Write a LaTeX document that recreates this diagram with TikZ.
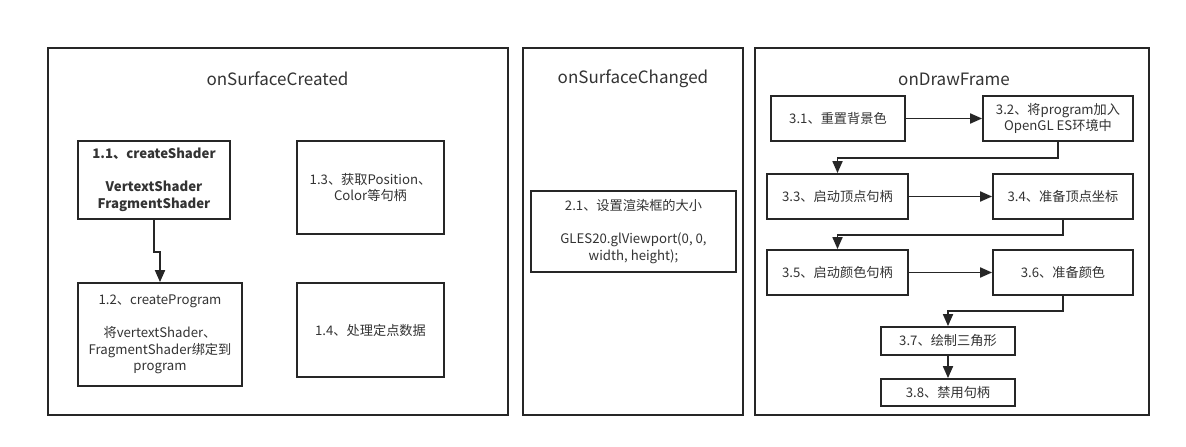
\documentclass[tikz,border=0pt]{standalone}
\usepackage{fontspec}
\setmainfont{Noto Sans CJK SC}
\usetikzlibrary{positioning,arrows.meta}
\newcommand{\boxfont}{\fontsize{13.2}{16.5}\selectfont}
\newcommand{\titlefont}{\fontsize{17}{20}\selectfont}
\tikzset{
  frame/.style={draw=black!85, line width=1.8pt},
  stepbox/.style={rectangle, draw=black!85, line width=1.8pt, align=center, inner sep=2pt, font=\boxfont, text=black!80},
  nxt/.style={-{Triangle[length=12pt, width=10pt]}, line width=1.8pt, draw=black!85},
  ttl/.style={font=\titlefont, text=black!80}
}

\begin{document}
\begin{tikzpicture}[x=1pt, y=-1pt]
\fill[white] (0,0) rectangle (1186,447);
\useasboundingbox (0,0) rectangle (1186,447);
% three stages
\draw[frame] (48,48) rectangle (508,415);
\draw[frame] (523,48) rectangle (743,415);
\draw[frame] (755,48) rectangle (1149,415);
\node[ttl] (tcreated) at (277.5,79) {onSurfaceCreated};
\node[ttl] (tchanged) at (633,79) {onSurfaceChanged};
\node[ttl] (tdraw) at (954,79) {onDrawFrame};
% onSurfaceCreated
\node[stepbox, minimum width=152pt, minimum height=78pt, font=\boxfont\bfseries] (s11) at (154,180)
  {1.1、createShader\\[16.5pt]VertextShader\\FragmentShader};
\node[stepbox, minimum width=164pt, minimum height=103pt] (s12) at (160,334.5)
  {1.2、createProgram\\[16.5pt]将vertextShader、\\FragmentShader绑定到\\program};
\node[stepbox, minimum width=147pt, minimum height=93pt] (s13) at (370.5,187.5)
  {1.3、获取Position、\\Color等句柄};
\node[stepbox, minimum width=147pt, minimum height=94pt] (s14) at (370.5,330)
  {1.4、处理定点数据};
\draw[nxt] (s11.south) -- ++(0,32) -| (s12.north);
% onSurfaceChanged
\node[stepbox, minimum width=205pt, minimum height=81pt] (s21) at (633.5,231.5)
  {2.1、设置渲染框的大小\\[16.5pt]GLES20.glViewport(0, 0,\\width, height);};
% onDrawFrame
\node[stepbox, minimum width=134pt, minimum height=45pt] (s31) at (838,118.5) {3.1、重置背景色};
\node[stepbox, minimum width=150pt, minimum height=45pt] (s32) at (1058,118.5) {3.2、将program加入\\OpenGL ES环境中};
\node[stepbox, minimum width=141pt, minimum height=45pt] (s33) at (837.5,196.5) {3.3、启动顶点句柄};
\node[stepbox, minimum width=140pt, minimum height=45pt] (s34) at (1063,196.5) {3.4、准备顶点坐标};
\node[stepbox, minimum width=141pt, minimum height=45pt] (s35) at (837.5,272.5) {3.5、启动颜色句柄};
\node[stepbox, minimum width=140pt, minimum height=45pt] (s36) at (1063,272.5) {3.6、准备颜色};
\node[stepbox, minimum width=134pt, minimum height=28pt] (s37) at (948,341) {3.7、绘制三角形};
\node[stepbox, minimum width=134pt, minimum height=27pt] (s38) at (948,392.5) {3.8、禁用句柄};
\draw[nxt] (s31) -- (s32);
\draw[nxt] (s33) -- (s34);
\draw[nxt] (s35) -- (s36);
\draw[nxt] (s32.south) -- ++(0,16) -| (s33.north);
\draw[nxt] (s34.south) -- ++(0,15) -| (s35.north);
\draw[nxt] (s36.south) -- ++(0,15) -| (s37.north);
\draw[nxt] (s37) -- (s38);
\end{tikzpicture}
\end{document}
